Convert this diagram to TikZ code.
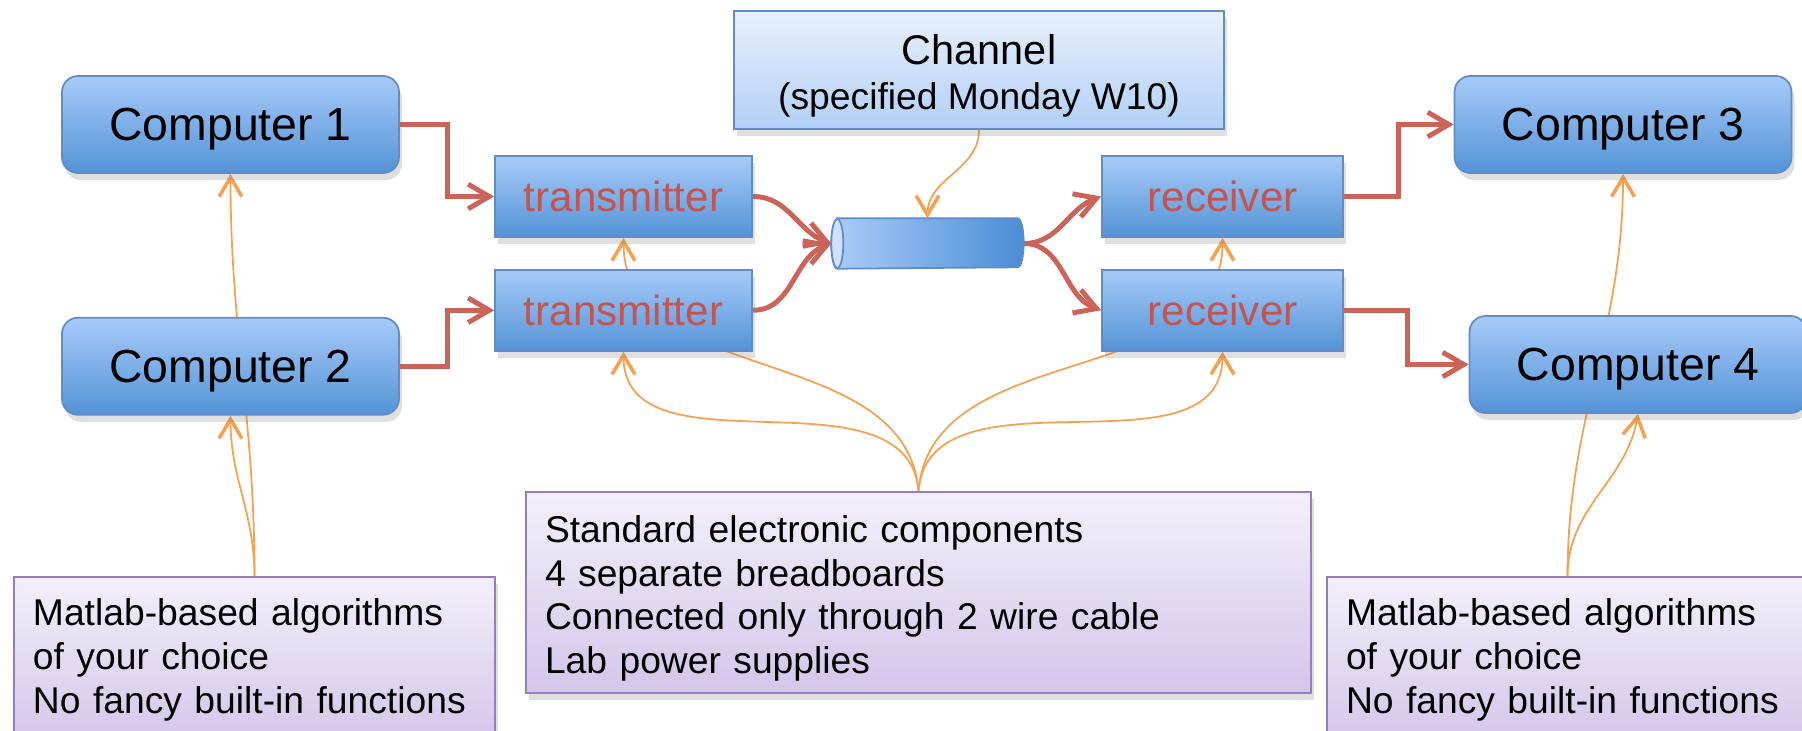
\documentclass[tikz,border=0pt]{standalone}
\usepackage{fontspec}
\setmainfont{Liberation Sans}
\usetikzlibrary{arrows.meta,positioning,shadows}
\definecolor{boxtop}{RGB}{166,203,249}
\definecolor{boxbot}{RGB}{84,147,214}
\definecolor{boxline}{RGB}{96,140,200}
\definecolor{chtop}{RGB}{233,241,253}
\definecolor{chbot}{RGB}{178,207,246}
\definecolor{wire}{RGB}{204,99,88}
\definecolor{lbl}{RGB}{196,84,80}
\definecolor{hint}{RGB}{247,160,80}
\definecolor{notetop}{RGB}{243,240,250}
\definecolor{notebot}{RGB}{212,197,234}
\definecolor{noteline}{RGB}{150,125,190}
\definecolor{cylL}{RGB}{170,205,248}
\definecolor{cylR}{RGB}{74,141,214}
\definecolor{cylF}{RGB}{208,226,250}
\pgfdeclarelayer{bg}
\pgfsetlayers{bg,main}

\begin{document}
\begin{tikzpicture}[node distance=3.1mm and 5mm,
  shd/.style={drop shadow={shadow xshift=0.3mm, shadow yshift=-0.7mm, opacity=0.25}},
  pc/.style={draw=boxline, line width=0.5pt, rounded corners=1.6mm, top color=boxtop, bottom color=boxbot, shd,
    minimum width=33.7mm, minimum height=9.7mm, text depth=0pt, font=\fontsize{13.2}{15}\selectfont},
  blk/.style={draw=boxline, line width=0.5pt, top color=boxtop, bottom color=boxbot, shd,
    minimum height=8.1mm, text depth=0pt, text=lbl, font=\fontsize{12}{14}\selectfont},
  chbox/.style={draw=boxline, line width=0.5pt, top color=chtop, bottom color=chbot, shd, align=center,
    minimum width=49mm, minimum height=11.6mm, font=\fontsize{10.6}{12.8}\selectfont},
  note/.style={draw=noteline, line width=0.6pt, top color=notetop, bottom color=notebot, shd, align=left,
    inner xsep=1.9mm, font=\fontsize{10.6}{12.5}\selectfont},
  redarr/.style={draw=wire, line width=1.4pt, -{Straight Barb[length=6pt, width=7pt]}},
  orarr/.style={draw=hint, line width=0.5pt, -{Straight Barb[length=5.5pt, width=6.5pt, line width=1pt]}}]
\useasboundingbox (0,0) rectangle (18.02,-7.31);
% computers
\node[pc] (c1) at (2.305,-1.245) {Computer 1};
\node[pc, below=14.3mm of c1] (c2) {Computer 2};
\node[pc] (c3) at (16.23,-1.245) {Computer 3};
\node[pc] (c4) at (16.38,-3.645) {Computer 4};
% hardware
\node[blk, minimum width=25.7mm] (tx1) at (6.235,-1.965) {transmitter};
\node[blk, minimum width=25.7mm, below=of tx1] (tx2) {transmitter};
\node[blk, minimum width=24.1mm] (rx1) at (12.225,-1.965) {receiver};
\node[blk, minimum width=24.1mm, below=of rx1] (rx2) {receiver};
\node[chbox] (chan) at (9.79,-0.70) {\rule{0pt}{12pt}{\fontsize{11.8}{12.8}\selectfont Channel}\\(specified Monday W10)};
\node[minimum width=19.1mm, minimum height=4.9mm, inner sep=0pt] (cyl) at (9.275,-2.435) {};
\shade[left color=cylL, right color=cylR, draw=boxline, line width=0.5pt]
  ([xshift=0.6mm]cyl.north west) -- ([xshift=-0.6mm]cyl.north east)
  arc[start angle=90, end angle=-90, x radius=0.6mm, y radius=2.45mm]
  -- ([xshift=0.6mm]cyl.south west)
  arc[start angle=270, end angle=90, x radius=0.6mm, y radius=2.45mm] -- cycle;
\filldraw[fill=cylF, draw=boxline, line width=0.5pt] ([xshift=0.6mm]cyl.west) ellipse[x radius=0.6mm, y radius=2.45mm];
% notes
\node[note, minimum width=48.1mm, minimum height=16.6mm, text width=44.3mm] (lnote) at (2.545,-6.6)
  {Matlab-based algorithms\\of your choice\\No fancy built-in functions};
\node[note, minimum width=78.5mm, minimum height=19.9mm, text width=74.7mm] (mnote) at (9.185,-5.925)
  {\rule{0pt}{11pt}Standard electronic components\\4 separate breadboards\\Connected only through 2 wire cable\\Lab power supplies};
\node[note, minimum width=48.1mm, minimum height=16.6mm, text width=44.3mm] (rnote) at (15.675,-6.6)
  {Matlab-based algorithms\\of your choice\\No fancy built-in functions};
\begin{pgfonlayer}{bg}
\draw[redarr] (c1.east) -- ++(4.8mm,0) |- (tx1.west);
\draw[redarr] (c2.east) -- ++(4.8mm,0) |- (tx2.west);
\draw[redarr] (tx1.east) to[out=0,in=160] (cyl.west);
\draw[redarr] (tx2.east) to[out=0,in=200] (cyl.west);
\draw[redarr] (cyl.east) to[out=0,in=200] (rx1.west);
\draw[redarr] (cyl.east) to[out=0,in=160] (rx2.west);
\draw[redarr] (rx1.east) -- ++(5.5mm,0) |- (c3.west);
\draw[redarr] (rx2.east) -- ++(6.4mm,0) |- (c4.west);
\draw[orarr] (chan.south) to[out=-90,in=90] (cyl.north);
\draw[orarr] (mnote.north) to[out=95,in=-90] (tx2.south);
\draw[orarr] (mnote.north) to[out=95,in=-90] (tx1.south);
\draw[orarr] (mnote.north) to[out=85,in=-90] (rx2.south);
\draw[orarr] (mnote.north) to[out=85,in=-90] (rx1.south);
\draw[orarr] (lnote.north) to[out=90,in=-90] (c1.south);
\draw[orarr] (lnote.north) to[out=90,in=-90] (c2.south);
\draw[orarr] (rnote.north) to[out=90,in=-90] (c3.south);
\draw[orarr] (rnote.north) to[out=90,in=-100] (c4.south);
\end{pgfonlayer}
\end{tikzpicture}
\end{document}
